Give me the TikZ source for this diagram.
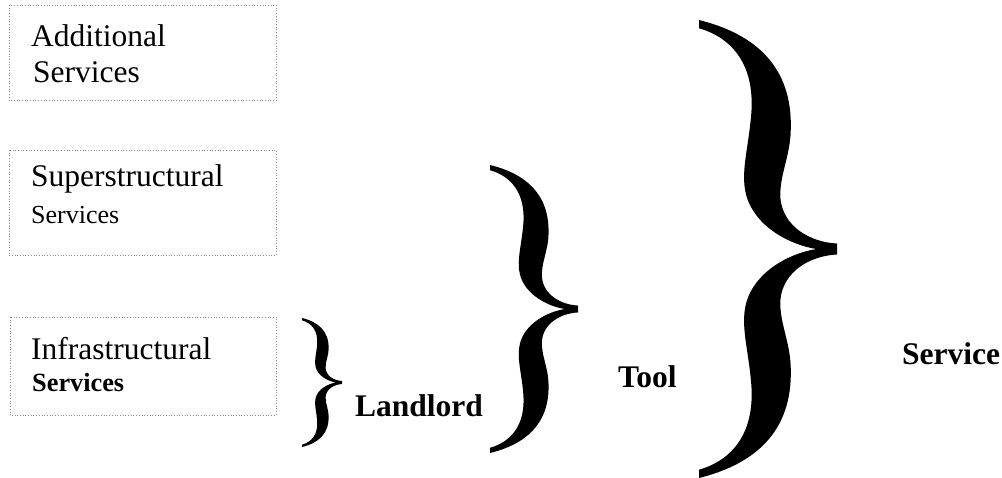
\documentclass[tikz,border=0pt]{standalone}
\usepackage{fontspec}
\setmainfont{Liberation Serif}
\tikzset{
  layerbox/.style={draw=black!45, dotted, line width=0.7pt},
  big/.style={font=\fontsize{31.5}{36}\selectfont, anchor=base west, inner sep=0pt},
  small/.style={font=\fontsize{26}{30}\selectfont, anchor=base west, inner sep=0pt},
  smallbold/.style={font=\fontsize{26.3}{30}\selectfont\bfseries, anchor=base west, inner sep=0pt},
  tag/.style={font=\fontsize{31.5}{36}\selectfont\bfseries, anchor=base west, inner sep=0pt},
}
% a filled curly brace in the box (#1,#2) -- (#1+#3,#2+#4), tip pointing right
\newcommand{\curlybrace}[4]{%
  \fill[shift={(#1,#2)}, xscale=#3, yscale=#4]
    (0,0) .. controls (0.40,0.03) and (0.68,0.10) .. (0.665,0.24)
    .. controls (0.66,0.30) and (0.58,0.34) .. (0.59,0.39)
    .. controls (0.61,0.45) and (0.80,0.485) .. (1,0.488)
    -- (1,0.512)
    .. controls (0.80,0.515) and (0.61,0.55) .. (0.59,0.61)
    .. controls (0.58,0.66) and (0.66,0.70) .. (0.665,0.76)
    .. controls (0.68,0.90) and (0.40,0.97) .. (0,1)
    -- (0,0.982)
    .. controls (0.25,0.96) and (0.40,0.90) .. (0.38,0.80)
    .. controls (0.36,0.72) and (0.30,0.67) .. (0.34,0.62)
    .. controls (0.40,0.55) and (0.65,0.51) .. (0.85,0.5)
    .. controls (0.65,0.49) and (0.40,0.45) .. (0.34,0.38)
    .. controls (0.30,0.33) and (0.36,0.28) .. (0.38,0.20)
    .. controls (0.40,0.10) and (0.25,0.04) .. (0,0.018)
    -- cycle;}
\begin{document}
\begin{tikzpicture}[x=1pt, y=-1pt]
  \useasboundingbox (0,0) rectangle (1002,477);

  % service layers
  \draw[layerbox] (9,5) rectangle (276,100);
  \node[big] (add1) at (31,46) {Additional};
  \node[big] (add2) at (33,82) {Services};

  \draw[layerbox] (9,150) rectangle (276,255);
  \node[big] (sup1) at (31,186) {Superstructural};
  \node[small] (sup2) at (31,223) {Services};

  \draw[layerbox] (10,317) rectangle (276,415);
  \node[big] (inf1) at (31,359) {Infrastructural};
  \node[smallbold] (inf2) at (32,391) {Services};

  % grouping braces
  \curlybrace{302}{318}{40}{129}
  \curlybrace{490}{165}{88}{288}
  \curlybrace{699}{20}{138}{458}

  \node[tag] (landlord) at (355,416) {Landlord};
  \node[tag] (tool) at (618,387) {Tool};
  \node[tag] (service) at (902,364) {Service};
\end{tikzpicture}
\end{document}
